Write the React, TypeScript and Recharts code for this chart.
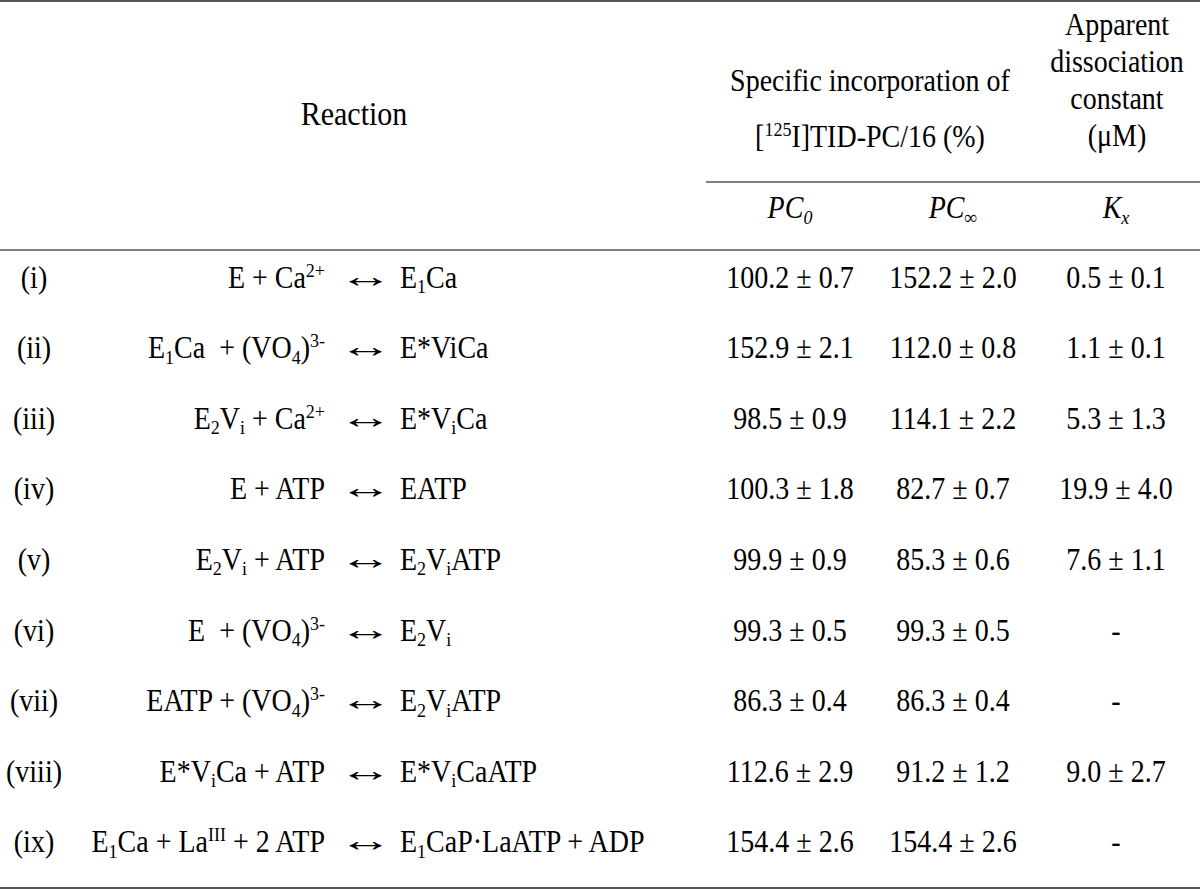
import React from 'react';
import { ScatterChart, Scatter, XAxis, YAxis, Customized } from 'recharts';

// ---------------- DATA ----------------
const rowLabels = ['(i)', '(ii)', '(iii)', '(iv)', '(v)', '(vi)', '(vii)', '(viii)', '(ix)'];

// markup: _{...} subscript, ^{...} superscript
const reactants = [
  'E + Ca^{2+}',
  'E_{1}Ca  + (VO_{4})^{3-}',
  'E_{2}V_{i} + Ca^{2+}',
  'E + ATP',
  'E_{2}V_{i} + ATP',
  'E  + (VO_{4})^{3-}',
  'EATP + (VO_{4})^{3-}',
  'E*V_{i}Ca + ATP',
  'E_{1}Ca + La^{III} + 2 ATP',
];

const products = [
  'E_{1}Ca',
  'E*ViCa',
  'E*V_{i}Ca',
  'EATP',
  'E_{2}V_{i}ATP',
  'E_{2}V_{i}',
  'E_{2}V_{i}ATP',
  'E*V_{i}CaATP',
  'E_{1}CaP·LaATP + ADP',
];

const pc0Mean = [100.2, 152.9, 98.5, 100.3, 99.9, 99.3, 86.3, 112.6, 154.4];
const pc0Err = [0.7, 2.1, 0.9, 1.8, 0.9, 0.5, 0.4, 2.9, 2.6];
const pcInfMean = [152.2, 112.0, 114.1, 82.7, 85.3, 99.3, 86.3, 91.2, 154.4];
const pcInfErr = [2.0, 0.8, 2.2, 0.7, 0.6, 0.5, 0.4, 1.2, 2.6];
const kxMean: (number | null)[] = [0.5, 1.1, 5.3, 19.9, 7.6, null, null, 9.0, null];
const kxErr: (number | null)[] = [0.1, 0.1, 1.3, 4.0, 1.1, null, null, 2.7, null];

const headerReaction = 'Reaction';
const headerIncorporation = ['Specific incorporation of', '[^{125}I]TID-PC/16 (%)'];
const headerKd = ['Apparent', 'dissociation', 'constant', '(μM)'];
const subHeaders = ['PC_{0}', 'PC_{∞}', 'K_{x}'];
const ARROW = '↔';

// ---------------- LAYOUT ----------------
const W = 1200;
const H = 890;
const FONT = "'Liberation Serif', 'Times New Roman', Times, serif";
const FS = 28;
const SMALL = 18;
const SUB_SHIFT = 5;
const SUP_SHIFT = 10;
const VSCALE = 1.1;
const INK = '#000';
const RULE = '#555';

const COL_X = {
  label: 34,
  left: 325,
  arrow: 366,
  right: 400,
  pc0: 790,
  pcInf: 953,
  kx: 1116,
};

const FIRST_BASELINE = 287.5;
const ROW_STEP = 70.6;

// ---------------- RICH TEXT ----------------
type Seg = { kind: 'n' | 'sub' | 'sup'; text: string };
function parse(markup: string): Seg[] {
  const out: Seg[] = [];
  const re = /(_\{[^}]*\}|\^\{[^}]*\}|[^_^]+)/g;
  let m: RegExpExecArray | null;
  while ((m = re.exec(markup))) {
    const s = m[0];
    if (s.startsWith('_{')) out.push({ kind: 'sub', text: s.slice(2, -1) });
    else if (s.startsWith('^{')) out.push({ kind: 'sup', text: s.slice(2, -1) });
    else out.push({ kind: 'n', text: s });
  }
  return out;
}

type RTProps = {
  x: number;
  y: number;
  anchor: 'start' | 'middle' | 'end';
  markup: string;
  italic?: boolean;
  size?: number;
  family?: string;
  hscale?: number;
  vscale?: number;
};

function RichText({ x, y, anchor, markup, italic, size = FS, family = FONT, hscale = 1, vscale = VSCALE }: RTProps) {
  const segs = parse(markup);
  const small = Math.round(size * (SMALL / FS));
  let cur = 0;
  return (
    <text
      transform={`translate(${x},${y}) scale(${hscale},${vscale})`}
      x={0}
      y={0}
      textAnchor={anchor}
      fontFamily={family}
      fontSize={size}
      fill={INK}
      fontStyle={italic ? 'italic' : 'normal'}
      style={{ whiteSpace: 'pre' }}
    >
      {segs.map((s, i) => {
        const target = s.kind === 'sub' ? SUB_SHIFT : s.kind === 'sup' ? -SUP_SHIFT : 0;
        const dy = target - cur;
        cur = target;
        return (
          <tspan key={i} dy={dy} fontSize={s.kind === 'n' ? size : small}>
            {s.text}
          </tspan>
        );
      })}
    </text>
  );
}

const fmt = (m: number | null, e: number | null) =>
  m === null || e === null ? '-' : `${m.toFixed(1)} ± ${e.toFixed(1)}`;

// ---------------- TABLE ROWS (built from data) ----------------
type Cell = { x: number; row: number; text: string };
const column = (x: number, texts: string[]): Cell[] => texts.map((text, row) => ({ x, row, text }));

const labelCells = column(COL_X.label, rowLabels);
const leftCells = column(COL_X.left, reactants);
const arrowCells = column(COL_X.arrow, rowLabels.map(() => ARROW));
const rightCells = column(COL_X.right, products);
const pc0Cells = column(COL_X.pc0, pc0Mean.map((m, i) => fmt(m, pc0Err[i])));
const pcInfCells = column(COL_X.pcInf, pcInfMean.map((m, i) => fmt(m, pcInfErr[i])));
const kxCells = column(COL_X.kx, kxMean.map((m, i) => fmt(m, kxErr[i])));

const shape = (anchor: 'start' | 'middle' | 'end') => (props: any) => {
  const { cx, cy, payload } = props;
  return <RichText x={cx} y={cy} anchor={anchor} markup={payload.text} />;
};

const arrowShape = (props: any) => {
  const { cx, cy, payload } = props;
  return <RichText x={cx} y={cy - 1} anchor="middle" markup={payload.text} size={32} hscale={1.7} vscale={1.0} />;
};

// ---------------- HEADER ----------------
function Header() {
  return (
    <g>
      <line x1={0} x2={W} y1={1} y2={1} stroke={RULE} strokeWidth={2} />
      <line x1={706} x2={W} y1={182} y2={182} stroke={RULE} strokeWidth={1.6} />
      <line x1={0} x2={W} y1={250} y2={250} stroke={RULE} strokeWidth={1.6} />
      <line x1={0} x2={W} y1={888} y2={888} stroke={RULE} strokeWidth={2} />

      <RichText x={354} y={125} anchor="middle" markup={headerReaction} size={30} />
      <RichText x={870} y={91} anchor="middle" markup={headerIncorporation[0]} />
      <RichText x={870} y={147} anchor="middle" markup={headerIncorporation[1]} />
      {headerKd.map((t, i) => (
        <RichText key={t} x={1117} y={35 + i * 37} anchor="middle" markup={t} />
      ))}
      <RichText x={COL_X.pc0} y={218} anchor="middle" markup={subHeaders[0]} italic />
      <RichText x={COL_X.pcInf} y={218} anchor="middle" markup={subHeaders[1]} italic />
      <RichText x={COL_X.kx} y={218} anchor="middle" markup={subHeaders[2]} italic />
    </g>
  );
}

export default function App() {
  const lastBaseline = FIRST_BASELINE + ROW_STEP * (rowLabels.length - 1);
  return (
    <div style={{ position: 'absolute', left: 0, top: 0, width: W, height: H, background: '#fff' }}>
      <ScatterChart
        width={W}
        height={H}
        margin={{ top: FIRST_BASELINE, bottom: H - lastBaseline, left: 0, right: 0 }}
      >
        <XAxis type="number" dataKey="x" domain={[0, W]} hide />
        <YAxis type="number" dataKey="row" domain={[0, rowLabels.length - 1]} reversed hide />
        <Customized component={Header} />
        <Scatter data={labelCells} shape={shape('middle')} isAnimationActive={false} />
        <Scatter data={leftCells} shape={shape('end')} isAnimationActive={false} />
        <Scatter data={arrowCells} shape={arrowShape} isAnimationActive={false} />
        <Scatter data={rightCells} shape={shape('start')} isAnimationActive={false} />
        <Scatter data={pc0Cells} shape={shape('middle')} isAnimationActive={false} />
        <Scatter data={pcInfCells} shape={shape('middle')} isAnimationActive={false} />
        <Scatter data={kxCells} shape={shape('middle')} isAnimationActive={false} />
      </ScatterChart>
    </div>
  );
}
